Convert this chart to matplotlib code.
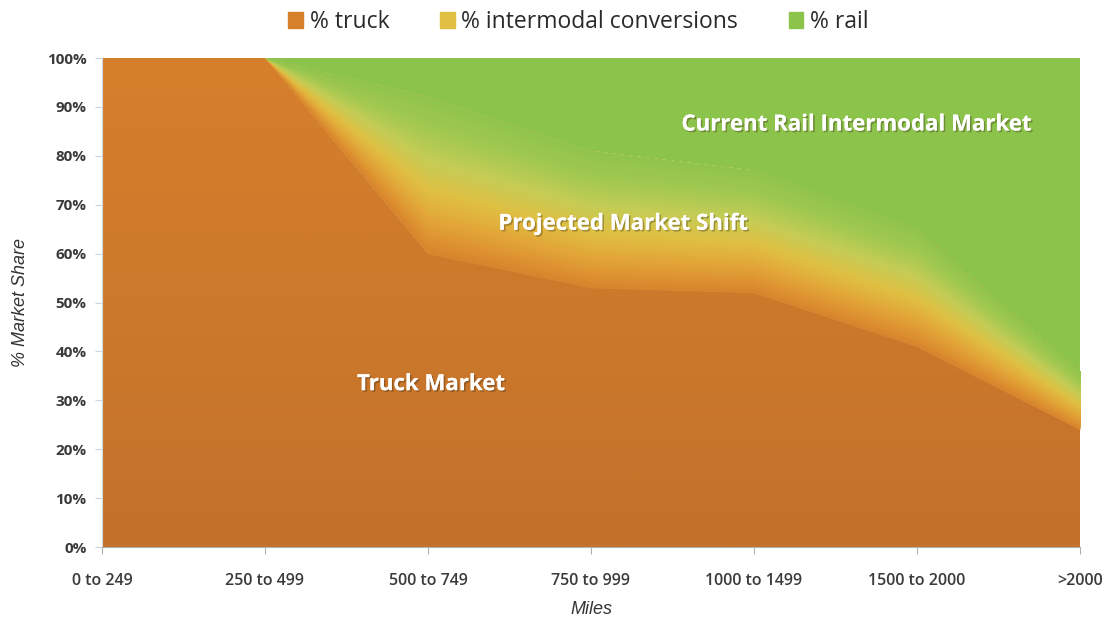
import numpy as np
import matplotlib.pyplot as plt
import matplotlib.patheffects as pe
from matplotlib.colors import LinearSegmentedColormap

# data (% market share per distance band)
bands = ['0 to 249', '250 to 499', '500 to 749', '750 to 999',
         '1000 to 1499', '1500 to 2000', '>2000']
truck = [100, 100, 60, 53, 52, 41, 24]
intermodal = [0, 0, 32, 28, 25, 24, 12]
rail = [0, 0, 8, 19, 23, 35, 64]

c_truck = '#d6802b'
c_inter = '#e3c13e'
c_rail = '#8cc34b'

plt.rcParams['font.family'] = ['Open Sans', 'DejaVu Sans']

fig = plt.figure(figsize=(11.08, 6.19), dpi=100)
ax = fig.add_axes([0.092, 0.1163, 0.8827, 0.79])

x = np.arange(len(bands))
polys = ax.stackplot(x, truck, intermodal, rail,
                     colors=[c_truck, c_inter, c_rail],
                     labels=['% truck', '% intermodal conversions', '% rail'],
                     linewidth=0)

# vertical shading on the truck area
grad = np.linspace(0, 1, 256).reshape(-1, 1)
cm_truck = LinearSegmentedColormap.from_list('t', ['#c3722b', '#d6802b'])
im = ax.imshow(grad, cmap=cm_truck, aspect='auto', origin='lower',
               extent=[0, 6, 0, 100], zorder=1.5)
im.set_clip_path(polys[0].get_paths()[0], ax.transData)

# soft blend through the intermodal band: orange -> yellow -> light green
lo = np.array(truck, dtype=float)
hi = lo + np.array(intermodal, dtype=float)
cm_inter = LinearSegmentedColormap.from_list(
    'i', ['#d8832c', '#e2a236', '#e0bf42', '#c5cc55', '#a2c850', '#90c44c'])
n = 40
for k in range(n):
    f0 = k / n
    ax.fill_between(x, lo + (hi - lo) * f0, hi,
                    color=cm_inter((k + 0.5) / n), linewidth=0, zorder=1.6)

ax.set_xlim(0, 6)
ax.set_ylim(0, 100)
ax.set_xticks(x)
ax.set_xticklabels(bands, fontsize=11.5, fontweight='semibold', color='#3a3a3a')
ax.set_yticks(np.arange(0, 101, 10))
ax.set_yticklabels(['%d%%' % v for v in range(0, 101, 10)],
                   fontsize=11, fontweight='bold', color='#3a3a3a')
ax.tick_params(axis='x', length=5, color='#b0b0b0', pad=14)
ax.tick_params(axis='y', length=5, color='#c8d4e0', pad=6)
for s in ['top', 'right']:
    ax.spines[s].set_visible(False)
ax.spines['left'].set_color('#d0d8e0')
ax.spines['bottom'].set_color('#b0b0b0')

ax.set_xlabel('Miles', fontsize=13, style='italic', color='#333333',
              family=['Liberation Sans', 'DejaVu Sans'], labelpad=8)
ax.set_ylabel('% Market Share', fontsize=13, style='italic', color='#333333',
              family=['Liberation Sans', 'DejaVu Sans'], labelpad=13)

for txt, tx, ty in [('Current Rail Intermodal Market', 4.63, 86.3),
                    ('Projected Market Shift', 3.2, 66.0),
                    ('Truck Market', 2.02, 33.2)]:
    t = ax.text(tx, ty, txt, color='white', fontsize=16, fontweight='bold',
                ha='center', va='center', zorder=5)
    t.set_path_effects([pe.withSimplePatchShadow(offset=(1.2, -1.2),
                                                 shadow_rgbFace='#3a2a10', alpha=0.35),
                        pe.Normal()])

leg = fig.legend(handles=[plt.Rectangle((0, 0), 1, 1, color=c) for c in
                          [c_truck, '#e0bf42', c_rail]],
                 labels=['% truck', '% intermodal conversions', '% rail'],
                 loc='upper center', bbox_to_anchor=(0.522, 1.017), ncol=3,
                 frameon=False, fontsize=16.5, handlelength=0.65, handleheight=0.65,
                 handletextpad=0.3, columnspacing=2.2)
for t in leg.get_texts():
    t.set_color('#2a2a2a')

fig.savefig('out.png', dpi=100)
